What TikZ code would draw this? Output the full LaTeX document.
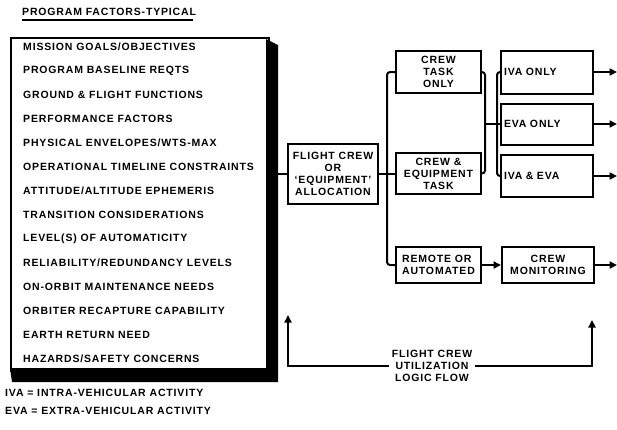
\documentclass[tikz,border=0pt]{standalone}
\usepackage{fontspec}
\setmainfont[LetterSpace=8]{Liberation Sans}
\usetikzlibrary{arrows.meta}
\begin{document}
\begin{tikzpicture}[x=1pt,y=-1pt,
  txt/.style={font=\fontsize{10.5}{12}\selectfont\bfseries, inner sep=0pt},
  box/.style={draw, line width=2pt, inner sep=0pt, align=center, font=\fontsize{10.5}{12}\selectfont\bfseries},
  conn/.style={line width=2pt},
  arr/.style={conn, -{Triangle[length=7.5pt,width=7pt]}}]
\useasboundingbox (0,0) rectangle (617,429);
% title
\node[txt, anchor=west] (title) at (22,12) {PROGRAM FACTORS-TYPICAL};
\draw[line width=2pt] (title.south west) ++(0,4.5) -- ++(171,0);
% big box with shadow
\fill (266,39) -- (278,45) -- (278,382) -- (12,382) -- (10,368) -- (266,368) -- cycle;
\node[draw, line width=2.2pt, minimum width=258pt, minimum height=333pt, anchor=north west] (factors) at (10,37) {};
\foreach \t [count=\i] in {MISSION GOALS/OBJECTIVES, PROGRAM BASELINE REQTS, GROUND \& FLIGHT FUNCTIONS, PERFORMANCE FACTORS, PHYSICAL ENVELOPES/WTS-MAX, OPERATIONAL TIMELINE CONSTRAINTS, ATTITUDE/ALTITUDE EPHEMERIS, TRANSITION CONSIDERATIONS, LEVEL(S) OF AUTOMATICITY, RELIABILITY/REDUNDANCY LEVELS, ON-ORBIT MAINTENANCE NEEDS, ORBITER RECAPTURE CAPABILITY, EARTH RETURN NEED, HAZARDS/SAFETY CONCERNS}
  \node[txt, anchor=west] (f\i) at (23,{47+24*(\i-1)}) {\t};
% notes
\node[txt, anchor=west] (n1) at (5,393) {IVA = INTRA-VEHICULAR ACTIVITY};
\node[txt, anchor=west] (n2) at (5,411) {EVA = EXTRA-VEHICULAR ACTIVITY};
% boxes
\node[box, minimum width=90pt, minimum height=60pt] (flight) at (333,173.5) {FLIGHT CREW\\OR\\`EQUIPMENT'\\ALLOCATION};
\node[box, minimum width=85pt, minimum height=42pt] (crewtask) at (438.5,72) {CREW\\TASK\\ONLY};
\node[box, minimum width=85pt, minimum height=41pt] (crewequip) at (438.5,173.5) {CREW \&\\EQUIPMENT\\TASK};
\node[box, minimum width=85pt, minimum height=36pt, align=left] (remote) at (438.5,265) {REMOTE OR\\AUTOMATED};
\node[box, minimum width=92pt, minimum height=43pt, text width=86pt, align=left] (iva) at (547,72) {IVA ONLY};
\node[box, minimum width=92pt, minimum height=41pt, text width=86pt, align=left] (eva) at (547,124) {EVA ONLY};
\node[box, minimum width=92pt, minimum height=42pt, text width=86pt, align=left] (both) at (547,176) {IVA \& EVA};
\node[box, minimum width=92pt, minimum height=36pt] (monitor) at (548,265) {CREW\\MONITORING};
\node[txt, align=center, inner xsep=3pt] (fb) at (432,366) {FLIGHT CREW\\UTILIZATION\\LOGIC FLOW};
% coordinates
\coordinate (busTop) at (387,72);
\coordinate (busBot) at (387,265);
\coordinate (mTop) at (485,72);
\coordinate (mBot) at (485,173.5);
\coordinate (mMid) at (485,124);
\coordinate (sMid) at (497,124);
\coordinate (sTop) at (497,72);
\coordinate (sBot) at (497,176);
\coordinate (o1) at (617,72);
\coordinate (o2) at (617,124);
\coordinate (o3) at (617,176);
\coordinate (o4) at (617,265);
\coordinate (fbL) at (288,315);
\coordinate (fbR) at (592,320);
% connectors
\draw[conn] (factors.east |- flight.west) -- (flight.west);
\draw[conn] (flight.east) -- (crewequip.west);
\draw[conn, rounded corners=3pt] (crewtask.west) -- (busTop) -- (busBot) -- (remote.west);
\draw[conn, rounded corners=3pt] (crewtask.east) -- (mTop) -- (mBot) -- (crewequip.east);
\draw[conn] (mMid) -- (sMid);
\draw[conn, rounded corners=3pt] (iva.west) -- (sTop) -- (sBot) -- (both.west);
\draw[conn] (sMid) -- (eva.west);
\draw[arr] (iva.east) -- (o1);
\draw[arr] (eva.east) -- (o2);
\draw[arr] (both.east) -- (o3);
\draw[arr] (remote.east) -- (monitor.west);
\draw[arr] (monitor.east) -- (o4);
\draw[arr] (fb.west) -| (fbL);
\draw[arr] (fb.east) -| (fbR);
\end{tikzpicture}
\end{document}
